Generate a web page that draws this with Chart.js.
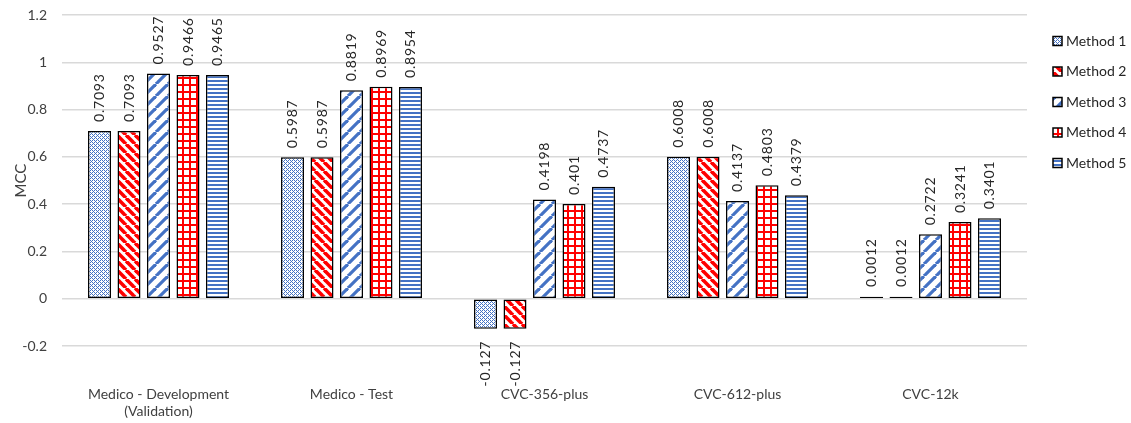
<!DOCTYPE html>
<html>
<head>
<meta charset="utf-8">
<script src="https://cdn.jsdelivr.net/npm/chart.js@4.4.1/dist/chart.umd.min.js"></script>
<style>
    html, body { margin: 0; padding: 0; background: #ffffff; }
    #wrap { width: 1131px; height: 423px; position: relative; }
</style>
</head>
<body>
<div id="wrap"><canvas id="mccChart"></canvas></div>
<script>
// MCC per dataset for each method
const categories = [
    ["Medico - Development", "(Validation)"],
    "Medico - Test",
    "CVC-356-plus",
    "CVC-612-plus",
    "CVC-12k"
];
const methodNames = ["Method 1", "Method 2", "Method 3", "Method 4", "Method 5"];

const method1 = [0.7093, 0.5987, -0.127, 0.6008, 0.0012];
const method2 = [0.7093, 0.5987, -0.127, 0.6008, 0.0012];
const method3 = [0.9527, 0.8819, 0.4198, 0.4137, 0.2722];
const method4 = [0.9466, 0.8969, 0.401, 0.4803, 0.3241];
const method5 = [0.9465, 0.8954, 0.4737, 0.4379, 0.3401];

const yTicks = [-0.2, 0, 0.2, 0.4, 0.6, 0.8, 1, 1.2];

const BLUE = "#4472c4";
const RED = "#ff0000";
const FONT = "Lato, 'Liberation Sans', sans-serif";

// small repeating tiles used as bar fills
function makePattern(kind) {
    const c = document.createElement("canvas");
    const ctx = c.getContext("2d");
    let size = 4;
    if (kind === "down") size = 9;
    if (kind === "up") size = 12;
    if (kind === "grid") size = 7;
    c.width = size; c.height = size;
    ctx.fillStyle = "#ffffff";
    ctx.fillRect(0, 0, size, size);

    if (kind === "dots") {
        // speckled lattice, mostly white
        ctx.fillStyle = BLUE;
        for (let x = 0; x < size; x++) {
            for (let y = 0; y < size; y++) {
                const even = x % 2 === 0 && y % 2 === 0;
                const odd = x % 2 === 1 && y % 2 === 1 && (x + y) % 4 === 0;
                if (even || odd) ctx.fillRect(x, y, 1, 1);
            }
        }
    } else if (kind === "down") {
        ctx.strokeStyle = RED;
        ctx.lineWidth = 3.6;
        for (const o of [-size, 0, size]) {
            ctx.beginPath();
            ctx.moveTo(o, 0);
            ctx.lineTo(o + size, size);
            ctx.stroke();
        }
    } else if (kind === "up") {
        ctx.strokeStyle = BLUE;
        ctx.lineWidth = 3.2;
        for (const o of [-size, 0, size]) {
            ctx.beginPath();
            ctx.moveTo(o, size);
            ctx.lineTo(o + size, 0);
            ctx.stroke();
        }
    } else if (kind === "grid") {
        ctx.fillStyle = RED;
        ctx.fillRect(0, 0, size, 2);
        ctx.fillRect(0, 0, 2, size);
    } else if (kind === "hlines") {
        ctx.fillStyle = BLUE;
        ctx.fillRect(0, 0, size, 2);
    }
    return ctx.createPattern(c, "repeat");
}

const fills = [
    makePattern("dots"),
    makePattern("down"),
    makePattern("up"),
    makePattern("grid"),
    makePattern("hlines")
];
const seriesValues = [method1, method2, method3, method4, method5];

// rotated value labels above (or below) each bar
const barLabels = {
    id: "barLabels",
    afterDatasetsDraw(chart) {
        const ctx = chart.ctx;
        ctx.save();
        ctx.font = "14px " + FONT;
        ctx.letterSpacing = "0.8px";
        ctx.fillStyle = "#262626";
        ctx.textBaseline = "middle";
        chart.data.datasets.forEach((ds, di) => {
            const meta = chart.getDatasetMeta(di);
            meta.data.forEach((bar, i) => {
                const v = ds.data[i];
                const neg = v < 0;
                ctx.save();
                ctx.translate(bar.x, neg ? bar.y + 12 : Math.min(bar.y, bar.base - 2) - 9);
                ctx.rotate(-Math.PI / 2);
                ctx.textAlign = neg ? "right" : "left";
                ctx.fillText(String(v), 0, 0);
                ctx.restore();
            });
        });
        ctx.restore();
    }
};

// legend on the right, drawn by hand so it sits where Excel puts it
const sideLegend = {
    id: "sideLegend",
    afterDraw(chart) {
        const ctx = chart.ctx;
        ctx.save();
        ctx.font = "14px " + FONT;
        ctx.textBaseline = "middle";
        ctx.textAlign = "left";
        chart.data.datasets.forEach((ds, i) => {
            const y = 41 + i * 30.5;
            ctx.fillStyle = ds.backgroundColor;
            ctx.fillRect(1053, y - 4.5, 9, 9);
            ctx.strokeStyle = "#000000";
            ctx.lineWidth = 1.5;
            ctx.strokeRect(1053, y - 4.5, 9, 9);
            ctx.fillStyle = "#262626";
            ctx.fillText(ds.label, 1066, y);
        });
        ctx.restore();
    }
};

new Chart(document.getElementById("mccChart"), {
    type: "bar",
    data: {
        labels: categories,
        datasets: methodNames.map((name, i) => ({
            label: name,
            data: seriesValues[i],
            backgroundColor: fills[i],
            borderColor: "#000000",
            borderWidth: 1.5,
            borderSkipped: false,
            minBarLength: 2,
            categoryPercentage: 0.764,
            barPercentage: 0.78
        }))
    },
    options: {
        responsive: true,
        maintainAspectRatio: false,
        animation: false,
        layout: { padding: { top: 15, right: 104, left: 0, bottom: 0 } },
        plugins: {
            legend: { display: false },
            tooltip: { enabled: false }
        },
        scales: {
            x: {
                grid: { display: false, drawTicks: false },
                border: { display: false },
                ticks: {
                    color: "#404040",
                    font: { family: FONT, size: 14 },
                    padding: 40,
                    maxRotation: 0
                },
                afterFit(scale) { scale.height = 77; }
            },
            y: {
                min: -0.2,
                max: 1.2,
                afterBuildTicks(scale) {
                    scale.ticks = yTicks.map(v => ({ value: v }));
                },
                grid: { color: "#d9d9d9", lineWidth: 1.5, drawTicks: false },
                border: { display: false },
                ticks: {
                    color: "#404040",
                    font: { family: FONT, size: 14 },
                    padding: 15,
                    callback: function(value) {
                        return String(Number(value.toFixed(1)));
                    }
                },
                title: {
                    display: true,
                    text: "MCC",
                    color: "#404040",
                    font: { family: FONT, size: 15 },
                    padding: { top: 12, bottom: 0 }
                },
                afterFit(scale) {
                    scale.width = 62;
                    // plot top/bottom are set by layout padding, not tick labels
                    scale.paddingTop = 0;
                    scale.paddingBottom = 0;
                }
            }
        }
    },
    plugins: [barLabels, sideLegend]
});
</script>
</body>
</html>
